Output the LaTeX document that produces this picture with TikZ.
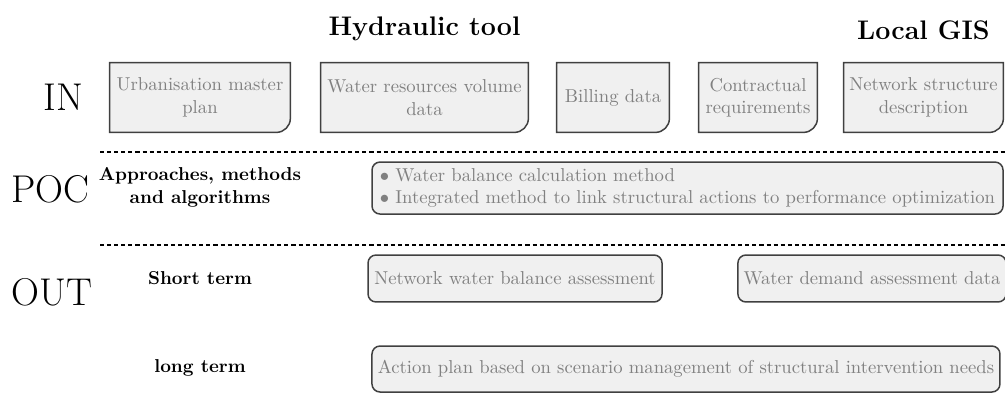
\documentclass[tikz,border=0pt]{standalone}
\usepackage{amsmath,amssymb}
\usepackage{tikz}
\usetikzlibrary{backgrounds}

\tikzset{
  inbox/.style={text=gray, align=center, minimum height=1.30cm, inner sep=2pt},
  outbox/.style={draw=black!75, line width=0.8pt, fill=gray!12, rounded corners=4.3pt, text=gray, minimum height=0.885cm, inner sep=3pt},
  rowlabel/.style={font=\huge},
  sublabel/.style={font=\bfseries, align=center},
  header/.style={font=\Large\bfseries},
  sepline/.style={line width=1.2pt, dash pattern=on 2.2pt off 1.6pt},
}

% box with only the lower right corner rounded
\newcommand{\inshape}[1]{%
  \filldraw[draw=black!75, line width=0.8pt, fill=gray!12] (#1.north west) -- (#1.north east)
    -- ([yshift=7.5pt]#1.south east) arc[start angle=0, end angle=-90, radius=7.5pt]
    -- (#1.south west) -- cycle;}

\begin{document}
\begin{tikzpicture}
    \useasboundingbox (0,0) rectangle (18.93,7.629);

    % IN
    \node[rowlabel] (in) at (1.196,5.792) {IN};
    \node[inbox, minimum width=3.390cm] (urban) at (3.767,5.792) {Urbanisation master\\plan};
    \node[inbox, minimum width=3.899cm] (water) at (7.996,5.792) {Water resources volume\\data};
    \node[inbox, minimum width=2.110cm] (billing) at (11.547,5.792) {Billing data};
    \node[inbox, minimum width=2.223cm] (contract) at (14.278,5.792) {Contractual\\requirements};
    \node[inbox, minimum width=2.995cm] (network) at (17.395,5.792) {Network structure\\description};

    \begin{scope}[on background layer]
      \foreach \n in {urban,water,billing,contract,network} {\inshape{\n}}
    \end{scope}

    \node[header] (hydro) at (7.996,7.082) {Hydraulic tool};
    \node[header] (gis) at (17.395,7.064) {Local GIS};

    \coordinate (sepa) at (1.884,4.765);
    \coordinate (sepb) at (18.93,4.765);
    \draw[sepline] (sepa) -- (sepb);

    % POC
    \node[rowlabel] (poc) at (0.942,4.069) {POC};
    \node[sublabel] (methods) at (3.767,4.097) {Approaches, methods\\and algorithms};
    \node[outbox, minimum height=0.979cm, minimum width=11.886cm, align=left] (calc) at (12.950,4.087)
      {$\bullet$ Water balance calculation method\\
       $\bullet$ Integrated method to link structural actions to performance optimization};

    \coordinate (sepc) at (1.884,3.014);
    \coordinate (sepd) at (18.93,3.014);
    \draw[sepline] (sepc) -- (sepd);

    % OUT
    \node[rowlabel] (out) at (0.979,2.128) {OUT};
    \node[sublabel] (short) at (3.767,2.392) {Short term};
    \node[sublabel] (long) at (3.767,0.697) {long term};
    \node[outbox, minimum width=5.538cm] (balance) at (9.701,2.383) {Network water balance assessment};
    \node[outbox, minimum width=4.935cm] (demand) at (16.425,2.383) {Water demand assessment data};
    \node[outbox, minimum width=11.829cm, minimum height=0.866cm] (plan) at (12.921,0.678) {Action plan based on scenario management of structural intervention needs};
\end{tikzpicture}
\end{document}
